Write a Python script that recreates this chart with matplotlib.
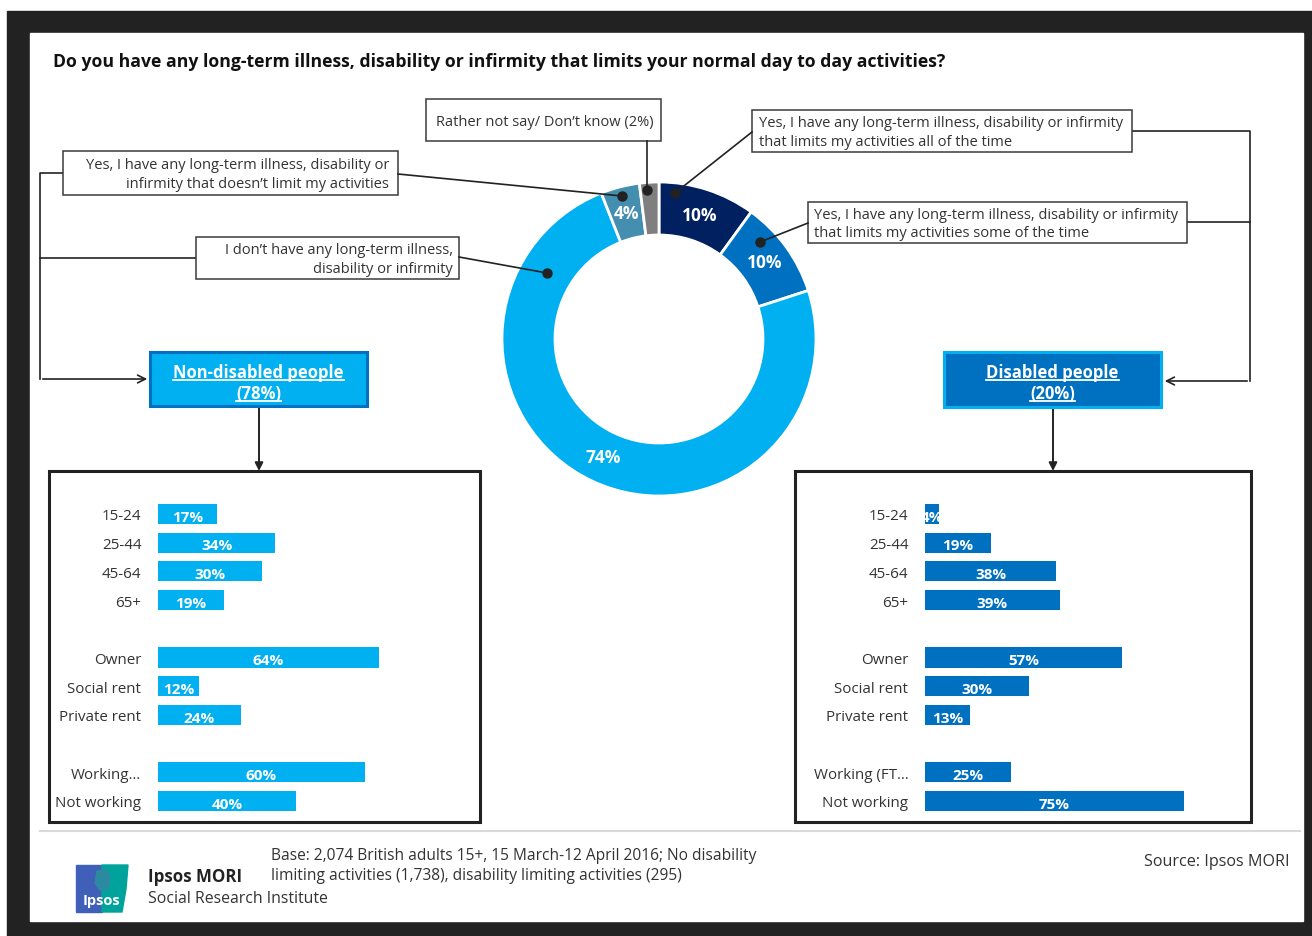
import matplotlib.pyplot as plt
from matplotlib.patches import Rectangle, FancyArrowPatch, Polygon

# donut: share of adults by answer, clockwise from 12 o'clock
answers = [
    "Yes, limits all of the time",
    "Yes, limits some of the time",
    "No long-term illness",
    "Yes, doesn't limit",
    "Rather not say/ Don't know",
]
answer_pct = [10, 10, 74, 4, 2]
answer_colors = ["#002060", "#0070C0", "#00B0F0", "#448EB0", "#7F7F7F"]

# profile bars
categories = ["15-24", "25-44", "45-64", "65+",
              "Owner", "Social rent", "Private rent",
              "Working\u2026", "Not working"]
categories_dis = ["15-24", "25-44", "45-64", "65+",
                  "Owner", "Social rent", "Private rent",
                  "Working (FT\u2026", "Not working"]
row_pos = [0, 1, 2, 3, 5, 6, 7, 9, 10]
non_disabled = [17, 34, 30, 19, 64, 12, 24, 60, 40]
disabled = [4, 19, 38, 39, 57, 30, 13, 25, 75]

W, H = 1312, 937
FONT = "Open Sans"
TXT = "#333333"

plt.rcParams["font.family"] = [FONT, "DejaVu Sans"]

fig = plt.figure(figsize=(W / 100, H / 100), dpi=100)


def px_axes(x0, y0, x1, y1, **kw):
    return fig.add_axes([x0 / W, 1 - y1 / H, (x1 - x0) / W, (y1 - y0) / H], **kw)


def pixel_space(a):
    a.set_xlim(0, W)
    a.set_ylim(H, 0)
    a.axis("off")


# background: dark frame with white slide
bg = fig.add_axes([0, 0, 1, 1], zorder=-1)
pixel_space(bg)
bg.add_patch(Rectangle((7, 12), W - 7, H - 12, color="#222222"))
bg.add_patch(Rectangle((30, 34), 1273, 888, color="white"))

# donut
cx, cy, r_out, r_in = 659, 340, 157, 104
dax = px_axes(cx - r_out, cy - r_out, cx + r_out, cy + r_out, zorder=0)
dax.pie(answer_pct, colors=answer_colors, startangle=90, counterclock=False,
        radius=1, wedgeprops=dict(width=(r_out - r_in) / r_out, edgecolor="white",
                                  linewidth=2),
        autopct=lambda p: f"{p:.0f}%" if p > 3 else "",
        pctdistance=(r_out + r_in) / 2 / r_out,
        textprops=dict(color="white", fontweight="bold", fontsize=12.5))
dax.set_xlim(-1, 1)
dax.set_ylim(-1, 1)

# overlay for callouts, connectors and boxes
ax = fig.add_axes([0, 0, 1, 1], zorder=2)
pixel_space(ax)
ax.patch.set_alpha(0)

ax.text(53, 62, "Do you have any long-term illness, disability or infirmity that limits "
        "your normal day to day activities?", fontsize=12.7, fontweight="bold",
        color="#111111", va="center", ha="left")


def callout(x0, y0, x1, y1, lines, ha, tx):
    ax.add_patch(Rectangle((x0, y0), x1 - x0, y1 - y0, facecolor="white",
                           edgecolor="#3a3a3a", linewidth=1.1, zorder=3))
    ax.text(tx, (y0 + y1) / 2 + 1, lines, ha=ha, va="center", fontsize=10.5,
            color=TXT, linespacing=1.33, zorder=4)


def leader(p0, p1):
    ax.plot([p0[0], p1[0]], [p0[1], p1[1]], color="#222222", lw=1.2, zorder=5)
    ax.plot(*p1, "o", color="#222222", ms=6.5, zorder=6)


line_kw = dict(color="#222222", lw=1.2, zorder=2)

callout(426, 100, 661, 142, "Rather not say/ Don\u2019t know (2%)", "center", 545)
leader((647, 142), (647, 191))

callout(752, 111, 1132, 153, "Yes, I have any long-term illness, disability or infirmity\n"
        "that limits my activities all of the time", "left", 759)
leader((752, 133), (675, 194))

callout(808, 203, 1187, 244, "Yes, I have any long-term illness, disability or infirmity\n"
        "that limits my activities some of the time", "left", 814)
leader((808, 224), (760, 243))

callout(63, 152, 398, 196, "Yes, I have any long-term illness, disability or\n"
        "infirmity that doesn\u2019t limit my activities", "right", 389)
leader((398, 175), (622, 197))

callout(196, 238, 459, 280, "I don\u2019t have any long-term illness,\n"
        "disability or infirmity", "right", 453)
leader((459, 258), (547, 274))

# connectors into the group boxes
ax.plot([63, 40, 40], [174, 174, 380], **line_kw)
ax.plot([196, 40], [259, 259], **line_kw)
ax.plot([1132, 1250, 1250], [132, 132, 382], **line_kw)
ax.plot([1187, 1250], [223, 223], **line_kw)
for start, end in [((40, 380), (150, 380)), ((1250, 382), (1162, 382))]:
    ax.add_patch(FancyArrowPatch(start, end, arrowstyle="->", mutation_scale=14,
                                 color="#222222", lw=1.2, zorder=2))
for x, y0 in [(259, 407), (1053, 408)]:
    ax.add_patch(FancyArrowPatch((x, y0), (x, 472), arrowstyle="-|>",
                                 mutation_scale=12, color="#222222", lw=1.4,
                                 zorder=2, shrinkA=0, shrinkB=0))


def group_box(x0, y0, x1, y1, face, edge, lines):
    ax.add_patch(Rectangle((x0, y0), x1 - x0, y1 - y0, facecolor=face,
                           edgecolor=edge, linewidth=2.2, zorder=3))
    xc = (x0 + x1) / 2
    texts = []
    for i, s in enumerate(lines):
        texts.append(ax.text(xc, y0 + 20 + i * 21, s, ha="center", va="center",
                             color="white", fontweight="bold", fontsize=12, zorder=4))
    return texts


underlined = group_box(150, 353, 367, 407, "#00B0F0", "#0070C0",
                       ["Non-disabled people", "(78%)"])
underlined += group_box(944, 353, 1161, 408, "#0070C0", "#00B0F0",
                        ["Disabled people", "(20%)"])

# panels with the profile bars
ax.add_patch(Rectangle((49, 472), 431, 351, fill=False, edgecolor="#222222",
                       lw=2.2, zorder=2))
ax.add_patch(Rectangle((795, 472), 456, 351, fill=False, edgecolor="#222222",
                       lw=2.2, zorder=2))

PX_PER_PCT = 3.45
row_h = 28.7


def bar_panel(x0, labels, values, color):
    top = 515 - row_h / 2
    bax = px_axes(x0, top, x0 + 100 * PX_PER_PCT, top + 11 * row_h, zorder=1)
    bars = bax.barh(row_pos, values, height=0.7, color=color)
    bax.set_xlim(0, 100)
    bax.set_ylim(10.5, -0.5)
    bax.set_yticks(row_pos, labels)
    bax.tick_params(axis="y", length=0, pad=12, labelsize=10.9, labelcolor=TXT)
    bax.set_xticks([])
    for s in bax.spines.values():
        s.set_visible(False)
    bax.patch.set_alpha(0)
    anns = bax.bar_label(bars, [f"{v}%" for v in values], label_type="center",
                         color="white", fontweight="bold", fontsize=11,
                         padding=0)
    for a, b in zip(anns, bars):
        a.set_clip_path(b)
        a.set_clip_on(True)
        a.xyann = (0, -2)


bar_panel(158, categories, non_disabled, "#00B0F0")
bar_panel(925, categories_dis, disabled, "#0070C0")

# footer
ax.plot([40, 1300], [832, 832], color="#d9d9d9", lw=1.5)
ax.add_patch(Rectangle((76, 866), 26, 47, color="#3F5FB8", zorder=2))
ax.add_patch(Polygon([(102, 866), (128, 866), (126, 890), (122, 913), (102, 913)],
                     closed=True, color="#00A39B", zorder=2))
ax.add_patch(Polygon([(97, 872), (106, 870), (110, 878), (108, 890), (100, 891),
                      (95, 884)], closed=True, color="#2C8AA0", zorder=3))
ax.text(101, 901, "Ipsos", color="white", fontweight="bold", fontsize=10.5,
        ha="center", va="center", zorder=4)
ax.text(148, 877, "Ipsos MORI", fontweight="bold", fontsize=12.2, color="#222222",
        va="center")
ax.text(148, 899, "Social Research Institute", fontsize=11.4, color=TXT, va="center")
ax.text(271, 866, "Base: 2,074 British adults 15+, 15 March-12 April 2016; No disability\n"
        "limiting activities (1,738), disability limiting activities (295)",
        fontsize=11.2, color=TXT, va="center", linespacing=1.4)
ax.text(1290, 862, "Source: Ipsos MORI", fontsize=11.6, color=TXT, va="center",
        ha="right")

# underline the group box headings
fig.canvas.draw()
renderer = fig.canvas.get_renderer()
inv = ax.transData.inverted()
for t in underlined:
    bb = t.get_window_extent(renderer)
    (xa, ya), (xb, yb) = inv.transform([(bb.x0, bb.y0), (bb.x1, bb.y1)])
    ax.plot([xa, xb], [ya - 1, ya - 1], color="white", lw=1.3, zorder=5)

fig.savefig("out.png", dpi=100)
